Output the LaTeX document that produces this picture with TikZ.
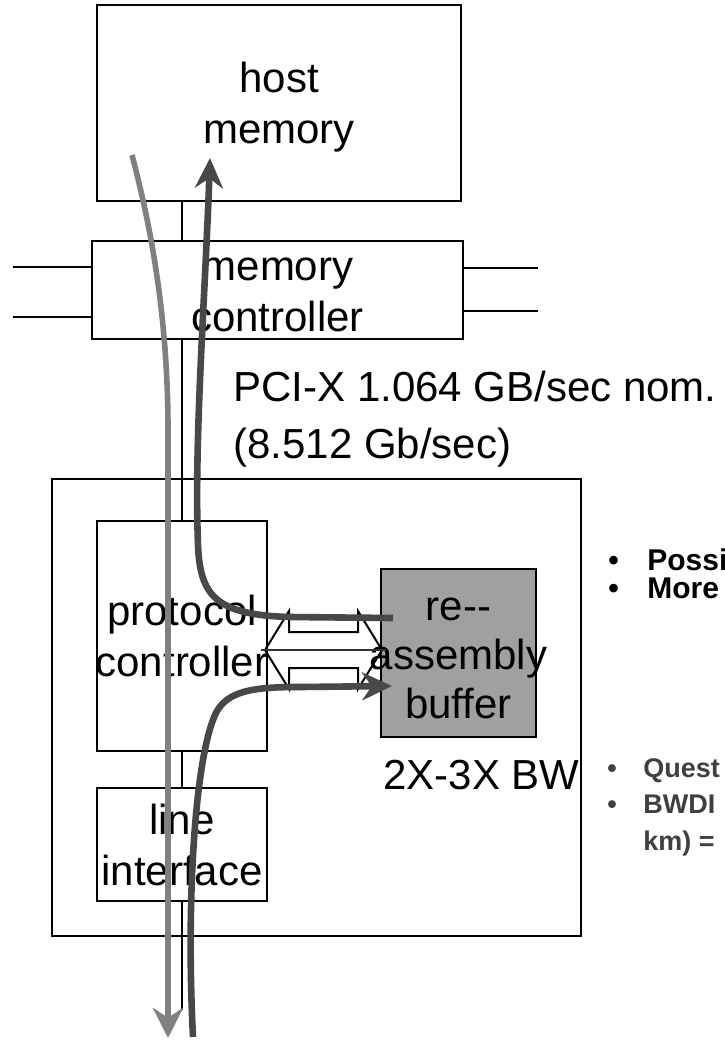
\documentclass[tikz,border=0pt]{standalone}
\usepackage{fontspec}
\setmainfont{Liberation Sans}
\usetikzlibrary{arrows.meta,calc}
\definecolor{flowlight}{RGB}{128,128,128}
\definecolor{flowdark}{RGB}{72,72,72}
\definecolor{buffill}{RGB}{160,160,160}
\definecolor{notegray}{RGB}{64,64,64}
\newcommand{\boxfont}{\fontsize{21}{25.5}\selectfont}
\tikzset{
  unit/.style={
    draw,
    line width=1pt,
    inner sep=0pt
  },
  caption/.style={
    inner sep=0pt,
    align=center,
    font=\boxfont
  },
  wire/.style={
    line width=1pt
  },
  lightflow/.style={
    draw=flowlight,
    line width=2.8pt,
    -{Stealth[length=15pt,width=15pt]}
  },
  darkflow/.style={
    draw=flowdark,
    line width=3.3pt,
    -{Stealth[length=15pt,width=14pt]}
  },
  note/.style={
    anchor=base west,
    inner sep=0pt,
    font=\fontsize{15}{14}\selectfont\bfseries
  },
  notesmall/.style={
    anchor=base west,
    inner sep=0pt,
    text=notegray,
    font=\fontsize{13.5}{18}\selectfont\bfseries
  }
}

\begin{document}
\begin{tikzpicture}[x=0.5pt,y=-0.5pt]
    \clip (0,0) rectangle (724,1040);
    % boxes
    \node[unit, minimum width=182pt, minimum height=98pt] (host) at (279,103) {};
    \node[unit, minimum width=185.5pt, minimum height=49pt] (memctl) at (277.5,290) {};
    \node[unit, minimum width=264.5pt, minimum height=228.5pt] (nic) at (316.5,707.5) {};
    \node[unit, minimum width=85pt, minimum height=115pt] (proto) at (182,636) {};
    \node[unit, fill=buffill, minimum width=77.5pt, minimum height=84pt] (buf) at (458.5,653) {};
    \node[unit, minimum width=85pt, minimum height=56.5pt] (lineif) at (182,844.5) {};
    \node[caption] (hosttext) at (279,107.5) {host\\memory};
    \node[caption] (memctltext) at (277.5,294.5) {memory\\controller};
    \node[caption] (prototext) at (182,636) {protocol\\controller};
    \node[caption, font=\fontsize{21}{24.5}\selectfont] (buftext) at (458.5,658) {re-{}-\\assembly\\buffer};
    \node[caption] (lineiftext) at (182,845) {line\\interface};
    % links
    \draw[wire] (host.south -| proto) -- (memctl.north -| proto);
    \draw[wire] (memctl.south -| proto) -- (proto.north);
    \draw[wire] (proto.south) -- (lineif.north);
    \coordinate (wireend) at (182,1010);
    \draw[wire] (lineif.south) -- (wireend);
    % stubs of the memory controller
    \coordinate (lstubA) at (13,267);
    \coordinate (lstubB) at (13,317);
    \coordinate (rstubA) at (538,268);
    \coordinate (rstubB) at (538,311);
    \draw[wire] (lstubA) -- (lstubA -| memctl.west);
    \draw[wire] (lstubB) -- (lstubB -| memctl.west);
    \draw[wire] (rstubA) -- (rstubA -| memctl.east);
    \draw[wire] (rstubB) -- (rstubB -| memctl.east);
    % bus between controller and buffer
    \coordinate (busL) at (265,650);
    \coordinate (busR) at (382,650);
    \draw[wire] (busL) -- ++(24,-39) -- ++(0,21) -- ++(69,0) -- ++(0,-21) -- (busR)
        -- ++(-24,39) -- ++(0,-21) -- ++(-69,0) -- ++(0,21) -- cycle;
    \draw[wire, black!80] ($(busL)+(-4,0)$) -- ($(busR)+(4,0)$);
    % labels
    \node[anchor=north west, inner sep=0pt, align=left, font=\fontsize{21}{28.5}\selectfont] (pci) at (233,371) {PCI-X 1.064 GB/sec nom.\\(8.512 Gb/sec)};
    \node[anchor=base west, inner sep=0pt, font=\boxfont] (bw) at (383,789) {2X-3X BW};
    \node[note] (poss) at (608,570) {\makebox[19.5pt][l]{•}Possi};
    \node[note] (more) at (608,598) {\makebox[19.5pt][l]{•}More};
    \node[notesmall] (ques) at (607,777) {\makebox[18pt][l]{•}Quest};
    \node[notesmall] (bwd) at (607,813) {\makebox[18pt][l]{•}BWDI};
    \node[notesmall] (km) at (643,850) {km) =};
    % data flows
    \coordinate (rxstart) at (132,155);
    \coordinate (rxend) at (168,1038);
    \coordinate (txstart) at (393,618);
    \coordinate (txend) at (210,158);
    \coordinate (instart) at (193,1037);
    \coordinate (inend) at (392,686);
    \draw[lightflow] (rxstart) .. controls (145,205) and (168,300) .. (168,430) -- (rxend);
    \draw[darkflow] (txstart) -- (290,617) .. controls (215,615) and (200,595) .. (198,545)
        .. controls (194,440) and (205,300) .. (txend);
    \draw[darkflow] (instart) .. controls (186,900) and (195,760) .. (215,715)
        .. controls (226,690) and (255,687) .. (300,687) -- (inend);
\end{tikzpicture}
\end{document}
